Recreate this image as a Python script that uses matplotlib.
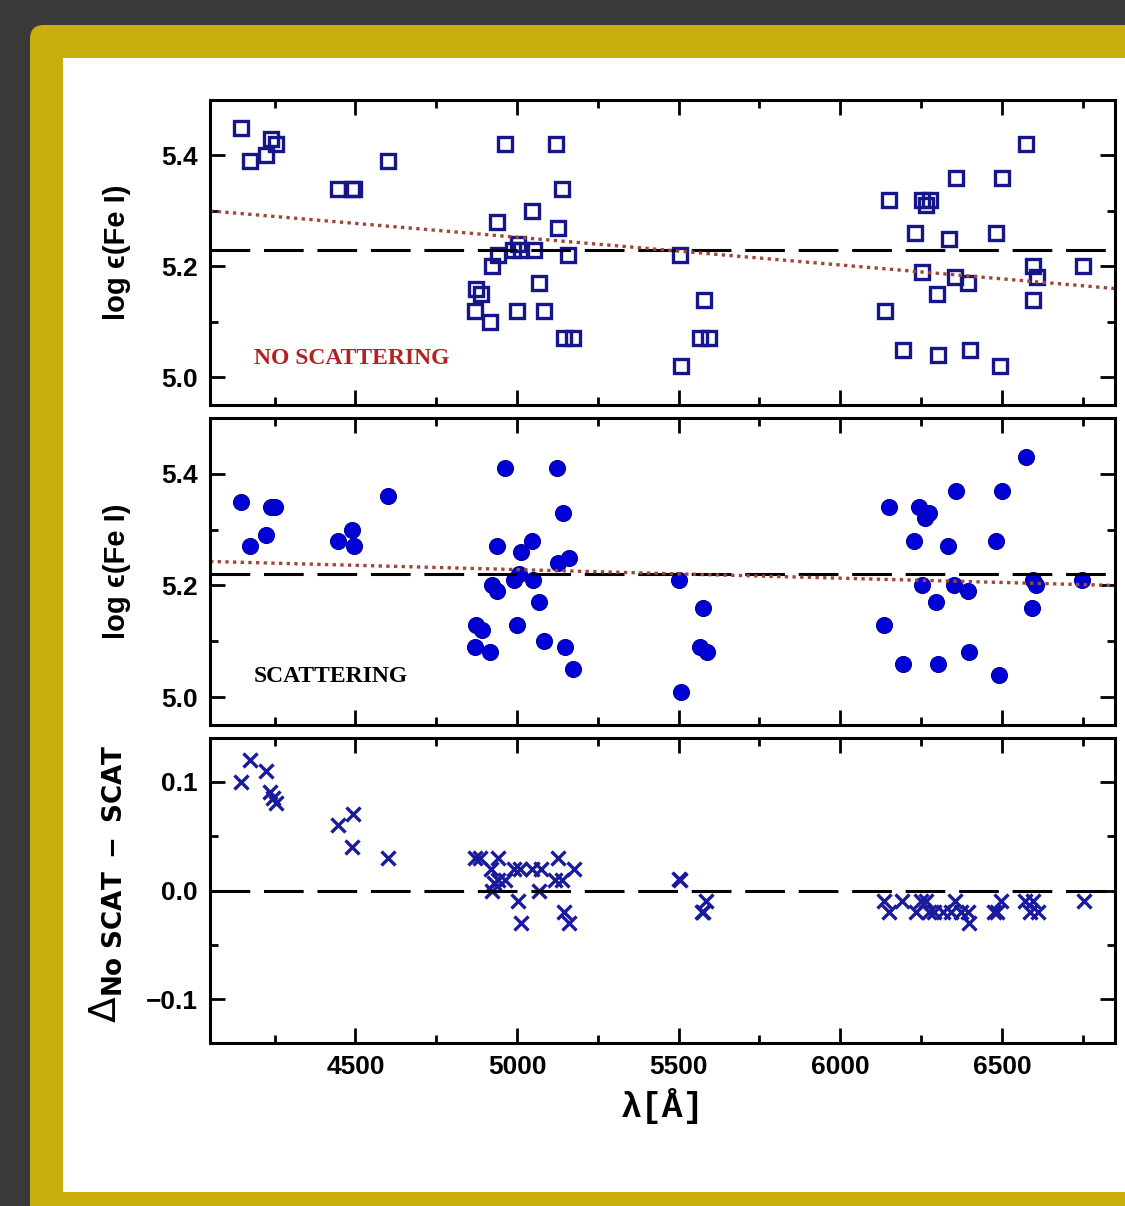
import numpy as np
import matplotlib
matplotlib.use("Agg")
import matplotlib.pyplot as plt
from matplotlib.patches import FancyBboxPatch, Rectangle
from matplotlib.ticker import MultipleLocator, FuncFormatter

# log eps(Fe I) without scattering (top panel)
lam_noscat = [4147, 4175, 4222, 4240, 4253, 4446, 4490, 4494, 4600, 4869,
              4872, 4889, 4915, 4923, 4938, 4941, 4964, 4987, 5000, 5003,
              5013, 5047, 5052, 5068, 5082, 5121, 5126, 5140, 5144, 5159,
              5173, 5503, 5508, 5567, 5577, 5593, 6137, 6152, 6193, 6230,
              6253, 6253, 6266, 6277, 6299, 6301, 6337, 6356, 6359, 6395,
              6400, 6483, 6493, 6500, 6575, 6595, 6596, 6608, 6751]
eps_noscat = [5.45, 5.39, 5.40, 5.43, 5.42, 5.34, 5.34, 5.34, 5.39, 5.12,
              5.16, 5.15, 5.10, 5.20, 5.28, 5.22, 5.42, 5.23, 5.12, 5.24,
              5.23, 5.30, 5.23, 5.17, 5.12, 5.42, 5.27, 5.34, 5.07, 5.22,
              5.07, 5.22, 5.02, 5.07, 5.14, 5.07, 5.12, 5.32, 5.05, 5.26,
              5.32, 5.19, 5.31, 5.32, 5.15, 5.04, 5.25, 5.18, 5.36, 5.17,
              5.05, 5.26, 5.02, 5.36, 5.42, 5.14, 5.20, 5.18, 5.20]

# log eps(Fe I) with scattering (middle panel)
lam_scat = [4147, 4175, 4222, 4238, 4250, 4446, 4490, 4494, 4600, 4869,
            4872, 4892, 4917, 4923, 4938, 4938, 4964, 4992, 5000, 5005,
            5013, 5047, 5049, 5068, 5083, 5123, 5126, 5141, 5147, 5160,
            5173, 5500, 5507, 5566, 5574, 5587, 6136, 6150, 6193, 6229,
            6244, 6253, 6263, 6275, 6296, 6301, 6334, 6353, 6357, 6394,
            6397, 6481, 6492, 6499, 6574, 6593, 6595, 6607, 6748]
eps_scat = [5.35, 5.27, 5.29, 5.34, 5.34, 5.28, 5.30, 5.27, 5.36, 5.09,
            5.13, 5.12, 5.08, 5.20, 5.27, 5.19, 5.41, 5.21, 5.13, 5.22,
            5.26, 5.28, 5.21, 5.17, 5.10, 5.41, 5.24, 5.33, 5.09, 5.25,
            5.05, 5.21, 5.01, 5.09, 5.16, 5.08, 5.13, 5.34, 5.06, 5.28,
            5.34, 5.20, 5.32, 5.33, 5.17, 5.06, 5.27, 5.20, 5.37, 5.19,
            5.08, 5.28, 5.04, 5.37, 5.43, 5.16, 5.21, 5.20, 5.21]

# difference no scat - scat (bottom panel)
lam_diff = [4147, 4175, 4222, 4237, 4245, 4253, 4446, 4492, 4489, 4600,
            4869, 4884, 4941, 4920, 4923, 4930, 4941, 4964, 4992, 5008,
            5047, 5074, 5068, 5003, 5013, 5126, 5118, 5140, 5175, 5144,
            5160, 5502, 5505, 5585, 5572, 5576, 6136, 6150, 6190, 6234,
            6250, 6265, 6273, 6291, 6317, 6342, 6356, 6373, 6394, 6399,
            6476, 6497, 6486, 6572, 6596, 6587, 6613, 6753]
diff = [0.10, 0.12, 0.11, 0.09, 0.085, 0.08, 0.06, 0.07, 0.04, 0.03,
        0.03, 0.03, 0.03, 0.02, 0.00, 0.007, 0.01, 0.01, 0.02, 0.02,
        0.02, 0.02, 0.00, -0.01, -0.03, 0.03, 0.01, 0.01, 0.02, -0.02,
        -0.03, 0.011, 0.010, -0.01, -0.02, -0.02, -0.01, -0.02, -0.01, -0.02,
        -0.01, -0.01, -0.02, -0.02, -0.02, -0.02, -0.01, -0.02, -0.02, -0.03,
        -0.02, -0.01, -0.02, -0.01, -0.01, -0.02, -0.02, -0.01]

# mean values and linear trends (end points of the dotted lines)
mean_noscat = 5.23
mean_scat = 5.22
trend_lam = [4050, 6850]
trend_noscat = [5.30, 5.16]
trend_scat = [5.243, 5.20]

XLIM = (4050, 6850)
W, H = 1125, 1206

TICK_FONT = ["Liberation Sans", "DejaVu Sans"]
SQ_COLOR = "#16168a"
DOT_COLOR = "#0000d6"
X_COLOR = "#1a1a9e"
TREND_COLOR = "#a0453a"

# one decimal, with a proper minus sign
one_dec = FuncFormatter(lambda v, pos: f"{v:.1f}".replace("-", "\u2212"))


def px_axes(fig, left, top, right, bottom):
    return fig.add_axes([left / W, 1 - bottom / H, (right - left) / W, (bottom - top) / H])


def style_axes(ax, show_xlabels=False):
    ax.set_xlim(*XLIM)
    ax.xaxis.set_major_locator(MultipleLocator(500))
    ax.xaxis.set_minor_locator(MultipleLocator(250))
    ax.tick_params(which="both", direction="in", top=True, right=True, width=2.0)
    ax.tick_params(which="major", length=11, pad=9)
    ax.tick_params(which="minor", length=6)
    ax.tick_params(axis="x", labelbottom=show_xlabels)
    for sp in ax.spines.values():
        sp.set_linewidth(2.2)
    for lab in ax.get_xticklabels() + ax.get_yticklabels():
        lab.set_fontfamily(TICK_FONT)
        lab.set_fontweight("bold")
        lab.set_fontsize(19)


fig = plt.figure(figsize=(W / 100, H / 100), dpi=100, facecolor="#3a3a3a")

# frame: gold rounded border with white panel
bg = fig.add_axes([0, 0, 1, 1])
bg.set_xlim(0, W)
bg.set_ylim(H, 0)
bg.axis("off")
bg.add_patch(FancyBboxPatch((30, 25), 1300, 1400, boxstyle="round,pad=0,rounding_size=14",
                            facecolor="#c9ae0c", edgecolor="none"))
bg.add_patch(Rectangle((63, 58), 1100, 1134, facecolor="white", edgecolor="none"))

ax1 = px_axes(fig, 210, 100, 1115, 405)
ax2 = px_axes(fig, 210, 418, 1115, 725)
ax3 = px_axes(fig, 210, 738, 1115, 1043)

# top panel
ax1.plot(lam_noscat, eps_noscat, linestyle="none", marker="s", ms=10, mfc="none",
         mec=SQ_COLOR, mew=2.4)
ax1.axhline(mean_noscat, color="black", lw=2.2, dashes=(13, 4.5))
ax1.plot(trend_lam, trend_noscat, color=TREND_COLOR, lw=2.4, linestyle=(0, (1, 1.3)))
ax1.set_ylim(4.95, 5.5)
ax1.yaxis.set_major_locator(MultipleLocator(0.2))
ax1.yaxis.set_minor_locator(MultipleLocator(0.1))
ax1.yaxis.set_major_formatter(one_dec)
ax1.text(4185, 5.033, "NO SCATTERING", color="#b22222", fontsize=17, fontweight="bold",
         family=["Liberation Serif", "DejaVu Serif"], va="center", ha="left")
style_axes(ax1)

# middle panel
ax2.plot(lam_scat, eps_scat, linestyle="none", marker="o", ms=11.5, mfc=DOT_COLOR,
         mec="#0000a0", mew=0.8)
ax2.axhline(mean_scat, color="black", lw=2.2, dashes=(13, 4.5))
ax2.plot(trend_lam, trend_scat, color=TREND_COLOR, lw=2.4, linestyle=(0, (1, 1.3)))
ax2.set_ylim(4.95, 5.5)
ax2.yaxis.set_major_locator(MultipleLocator(0.2))
ax2.yaxis.set_minor_locator(MultipleLocator(0.1))
ax2.yaxis.set_major_formatter(one_dec)
ax2.text(4185, 5.036, "SCATTERING", color="black", fontsize=17, fontweight="bold",
         family=["Liberation Serif", "DejaVu Serif"], va="center", ha="left")
style_axes(ax2)

# bottom panel
ax3.plot(lam_diff, diff, linestyle="none", marker="x", ms=9.5, mec=X_COLOR, mew=2.4)
ax3.axhline(0.0, color="black", lw=2.2, dashes=(13, 4.5))
ax3.set_ylim(-0.14, 0.14)
ax3.yaxis.set_major_locator(MultipleLocator(0.1))
ax3.yaxis.set_minor_locator(MultipleLocator(0.05))
ax3.yaxis.set_major_formatter(one_dec)
style_axes(ax3, show_xlabels=True)
ax3.set_xlabel("λ[Å]", fontsize=25, fontweight="bold",
               family=["Liberation Mono", "DejaVu Sans Mono"], labelpad=6)

label_font = dict(fontsize=21, fontweight="bold", family=["Liberation Sans", "DejaVu Sans"],
                  rotation=90, ha="center", va="center")
fig.text(117 / W, 1 - 252 / H, "log ϵ(Fe I)", **label_font)
fig.text(117 / W, 1 - 571 / H, "log ϵ(Fe I)", **label_font)
fig.text(106 / W, 1 - 884 / H, r"$\Delta_{\mathbf{No\ SCAT\ -\ SCAT}}$", fontsize=27,
         rotation=90, ha="center", va="center")

fig.savefig("out.png", dpi=100, facecolor=fig.get_facecolor())
